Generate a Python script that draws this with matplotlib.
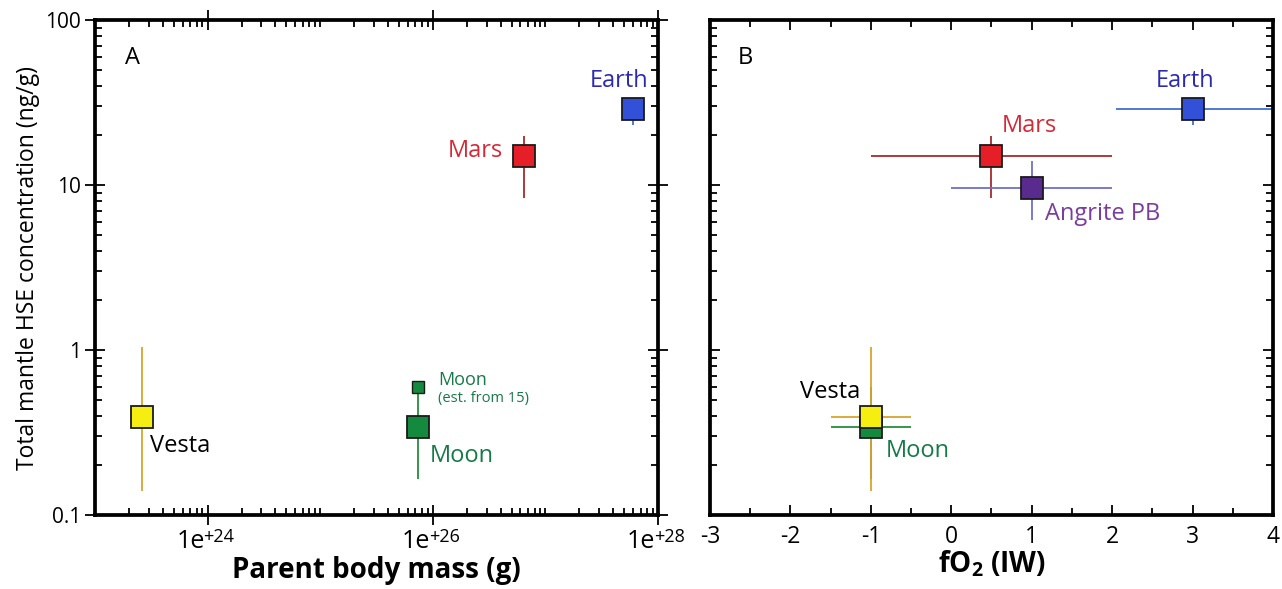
import numpy as np
import matplotlib
matplotlib.use("Agg")
import matplotlib.pyplot as plt
from matplotlib.ticker import LogLocator, FixedLocator, FuncFormatter, NullFormatter, MultipleLocator

plt.rcParams['font.family'] = ['Open Sans', 'DejaVu Sans']
plt.rcParams['mathtext.fontset'] = 'custom'
plt.rcParams['mathtext.rm'] = 'Open Sans'
plt.rcParams['mathtext.bf'] = 'Open Sans:bold'
plt.rcParams['axes.unicode_minus'] = False

# Parent bodies: mass (g), fO2 (IW), total mantle HSE (ng/g) with ranges
bodies     = ["Vesta", "Moon", "Mars", "Earth", "Angrite PB"]
mass_g     = [2.6e23, 7.35e25, 6.42e26, 5.97e27, np.nan]
fo2        = [-1.0, -1.0, 0.5, 3.0, 1.0]
fo2_lo     = [-1.5, -1.5, -1.0, 2.05, 0.0]
fo2_hi     = [-0.5, -0.5, 2.0, 4.2, 2.0]
hse        = [0.39, 0.34, 15.0, 29.0, 9.6]
hse_lo     = [0.14, 0.165, 8.4, 23.0, 6.1]
hse_hi     = [1.05, 0.60, 19.8, 33.0, 14.0]

# Moon estimate (est. from 15)
moon_est_mass = 7.35e25
moon_est_hse  = 0.60

mass_ticks = [1e24, 1e26, 1e28]

face  = {"Vesta": "#f6ee10", "Moon": "#138a3e", "Mars": "#e61e28",
         "Earth": "#3250d8", "Angrite PB": "#5a2b8e"}
err_c = {"Vesta": "#d9a22e", "Moon": "#2a8c3c", "Mars": "#a52a2e",
         "Earth": "#3f6fd2", "Angrite PB": "#7070c8"}
txt_c = {"Vesta": "black", "Moon": "#167a48", "Mars": "#d42a38",
         "Earth": "#2c2ab0", "Angrite PB": "#7b3c9c"}

MS = 15.5
LAB = 17
PX = 0.72  # points per pixel at dpi 100

fig = plt.figure(figsize=(12.82, 5.89), dpi=100)
axA = fig.add_axes([0.0741, 0.1256, 0.4392, 0.8404])
axB = fig.add_axes([0.5538, 0.1256, 0.4392, 0.8404])

for ax in (axA, axB):
    for s in ax.spines.values():
        s.set_linewidth(2.7)
    ax.set_yscale('log')
    ax.set_ylim(0.1, 100)
    ax.tick_params(which='both', top=True, right=True, width=1.3, color='black')
    ax.tick_params(which='minor', direction='in', length=5)

def draw_point(ax, x, y, xl, xh, yl, yh, name, with_x=True):
    kw = dict(fmt='none', ecolor=err_c[name], elinewidth=1.3, capsize=0, zorder=2)
    ax.errorbar([x], [y], yerr=[[y - yl], [yh - y]], **kw)
    if with_x:
        ax.errorbar([x], [y], xerr=[[x - xl], [xh - x]], **kw)
    ax.plot([x], [y], 's', ms=MS, mfc=face[name], mec='#1a1a1a', mew=1.3, zorder=3)

def label(ax, x, y, text, name, dx, dy, ha='left', size=LAB):
    ax.annotate(text, (x, y), xytext=(dx * PX, dy * PX), textcoords='offset points',
                ha=ha, va='center', color=txt_c[name], fontsize=size)

# ---- Panel A: HSE vs parent body mass
axA.set_xscale('log')
axA.set_xlim(1e23, 1e28)
for i, name in enumerate(bodies[:4]):
    draw_point(axA, mass_g[i], hse[i], None, None, hse_lo[i], hse_hi[i], name, with_x=False)
axA.plot([moon_est_mass], [moon_est_hse], 's', ms=8.5, mfc=face["Moon"], mec='#1a1a1a',
         mew=1.0, zorder=3)

label(axA, mass_g[3], hse[3], "Earth", "Earth", -14, 28, ha='center')
label(axA, mass_g[2], hse[2], "Mars", "Mars", -21, 5, ha='right')
label(axA, mass_g[0], hse[0], "Vesta", "Vesta", 8, -29)
label(axA, mass_g[1], hse[1], "Moon", "Moon", 12, -29)
label(axA, moon_est_mass, moon_est_hse, "Moon", "Moon", 20, 7, size=13)
label(axA, moon_est_mass, moon_est_hse, "(est. from 15)", "Moon", 20, -12, size=10.5)

axA.xaxis.set_major_locator(FixedLocator(mass_ticks))
axA.xaxis.set_minor_locator(LogLocator(base=10, subs=np.arange(1, 10), numticks=30))
axA.xaxis.set_minor_formatter(NullFormatter())
axA.xaxis.set_major_formatter(NullFormatter())
# tick labels written as "1e" with a raised "+NN"
for v in mass_ticks:
    e = int(round(np.log10(v)))
    axA.annotate("1e", (v, 0), xycoords=axA.get_xaxis_transform(), xytext=(-3 * PX, -33 * PX),
                 textcoords='offset points', ha='right', va='baseline', fontsize=18,
                 annotation_clip=False)
    axA.annotate("+%d" % e, (v, 0), xycoords=axA.get_xaxis_transform(), xytext=(-4 * PX, -27 * PX),
                 textcoords='offset points', ha='left', va='baseline', fontsize=13,
                 annotation_clip=False)
axA.yaxis.set_major_locator(FixedLocator([0.1, 1, 10, 100]))
axA.yaxis.set_minor_locator(LogLocator(base=10, subs=np.arange(2, 10), numticks=30))
axA.yaxis.set_minor_formatter(NullFormatter())
axA.yaxis.set_major_formatter(FuncFormatter(lambda v, p: "%g" % v))
axA.tick_params(which='major', direction='inout', length=14)
axA.tick_params(axis='y', which='major', labelsize=15, pad=3)

axA.set_xlabel("Parent body mass (g)", fontsize=20, fontweight='bold')
axA.xaxis.set_label_coords(0.5, -0.083)
axA.set_ylabel("Total mantle HSE concentration (ng/g)", fontsize=16.5, labelpad=4)
axA.text(0.067, 0.923, "A", transform=axA.transAxes, fontsize=17, ha='center', va='center')

# ---- Panel B: HSE vs fO2
axB.set_xlim(-3, 4)
for i in [1, 0, 2, 4, 3]:
    name = bodies[i]
    draw_point(axB, fo2[i], hse[i], fo2_lo[i], fo2_hi[i], hse_lo[i], hse_hi[i], name)

label(axB, fo2[3], hse[3], "Earth", "Earth", -8, 28, ha='center')
label(axB, fo2[2], hse[2], "Mars", "Mars", 10, 30)
label(axB, fo2[4], hse[4], "Angrite PB", "Angrite PB", 13, -26)
label(axB, fo2[0], hse[0], "Vesta", "Vesta", -11, 25, ha='right')
label(axB, fo2[1], hse[1], "Moon", "Moon", 15, -24)

axB.xaxis.set_major_locator(MultipleLocator(1))
axB.xaxis.set_minor_locator(MultipleLocator(0.5))
axB.xaxis.set_major_formatter(FuncFormatter(lambda v, p: "%d" % round(v)))
axB.yaxis.set_major_locator(FixedLocator([0.1, 1, 10, 100]))
axB.yaxis.set_minor_locator(LogLocator(base=10, subs=np.arange(2, 10), numticks=30))
axB.yaxis.set_major_formatter(NullFormatter())
axB.yaxis.set_minor_formatter(NullFormatter())
axB.tick_params(which='major', direction='in', length=7)
axB.tick_params(axis='x', which='major', labelsize=16.5, pad=7)
axB.set_xlabel(r"fO$_\mathbf{2}$ (IW)", fontsize=20, fontweight='bold', labelpad=0)
axB.text(0.062, 0.923, "B", transform=axB.transAxes, fontsize=17, ha='center', va='center')

plt.savefig("out.png", dpi=100, facecolor='white')
plt.close()
